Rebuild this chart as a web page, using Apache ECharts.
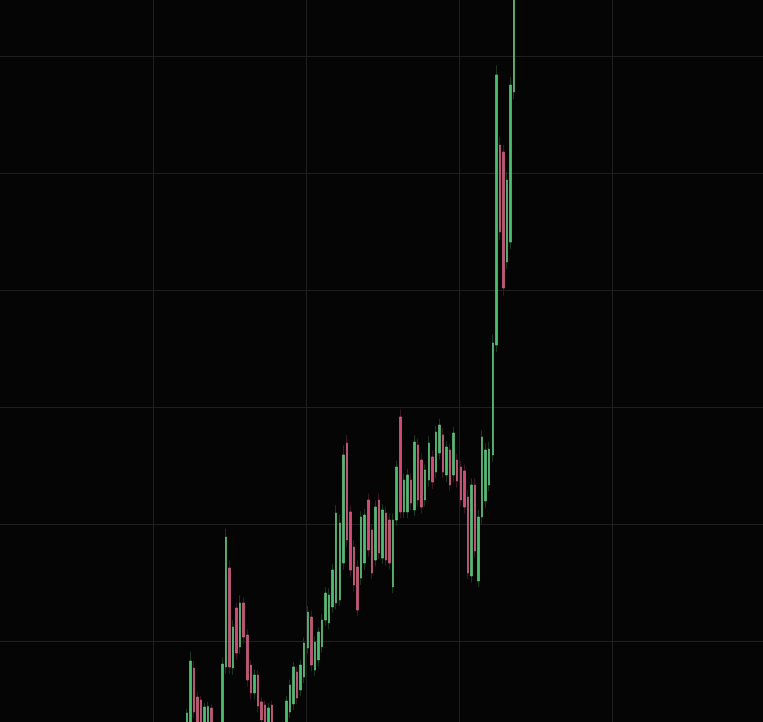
<!DOCTYPE html>
<html><head><meta charset="utf-8">
<script src="https://cdn.jsdelivr.net/npm/echarts@6/dist/echarts.min.js"></script>
<style>html,body{margin:0;padding:0;background:#050505;overflow:hidden}#c{width:763px;height:722px;}</style>
</head><body><div id="c"></div>
<script>
// category slots on the x axis (the visible window holds 215 slots; bars occupy slots 52..144)
const slotCount = 215;
const firstSlot = 52;
const opens = [2.82,2.39,7.69,5.21,4.96,2.56,2.39,4.27,2.50,1.90,
1.97,7.78,16.24,7.69,12.82,9.49,13.25,10.51,7.95,5.56,
7.09,4.79,4.53,2.56,4.53,2.00,2.40,1.90,2.56,3.93,
4.62,7.35,5.81,6.92,9.40,12.05,7.52,8.38,9.49,11.79,
11.54,12.91,13.25,13.50,16.67,26.92,21.03,18.03,16.32,15.38,
16.67,22.05,19.49,16.92,22.05,17.09,20.94,20.34,14.62,20.34,
29.15,21.03,21.03,23.76,21.20,26.75,25.47,22.05,23.76,25.73,
24.44,26.07,27.61,24.19,26.32,24.19,25.47,24.87,24.53,22.31,
15.56,23.33,15.13,20.60,21.97,23.33,25.90,35.30,52.39,51.79,
42.39,44.10,56.92];
const closes = [3.85,8.29,3.93,2.56,2.74,4.36,4.40,2.39,1.90,2.60,
8.03,18.89,7.78,11.20,8.97,13.25,10.34,6.67,5.56,7.09,
4.44,3.25,2.56,4.27,2.39,2.50,1.80,2.70,4.87,6.24,
7.78,5.13,7.95,9.83,12.48,7.95,9.91,10.77,11.79,14.10,
13.93,16.07,20.94,20.09,25.90,18.63,16.07,14.79,12.65,20.60,
20.77,17.78,15.81,21.45,17.52,21.20,16.92,16.67,20.34,24.87,
21.03,23.76,24.19,21.79,27.01,22.05,21.45,24.62,26.92,23.59,
27.86,28.46,24.44,26.58,23.33,27.78,23.68,22.05,21.45,15.81,
23.33,17.69,20.60,27.44,26.32,26.41,35.47,58.38,44.96,40.17,
49.40,57.52,68.20];
const lows = [2.3,1.9,3.4,2.0,2.2,2.0,1.9,1.9,1.4,1.4,
1.5,7.2,7.2,7.1,8.4,8.9,9.8,6.1,5.0,5.0,
3.9,2.7,2.0,2.0,1.8,1.5,1.3,1.4,2.0,3.4,
4.1,4.6,5.3,6.4,8.9,7.4,7.0,7.8,9.0,11.3,
11.0,12.4,12.7,13.0,16.1,18.0,15.5,14.2,12.1,14.8,
16.1,17.2,15.3,16.4,17.0,16.6,16.4,16.1,14.1,19.8,
20.5,20.5,20.5,21.2,20.7,21.5,20.9,21.5,23.2,23.0,
23.9,25.5,23.9,23.6,22.8,23.6,23.1,21.5,20.9,15.3,
15.0,17.1,14.6,20.0,21.4,22.8,25.3,34.7,44.3,39.5,
41.8,43.5,56.3];
const highs = [4.2,9.1,8.3,5.6,5.3,4.7,4.8,4.6,2.8,2.9,
8.6,19.6,16.9,11.8,13.3,13.9,13.7,11.0,8.4,7.6,
7.5,5.2,4.9,4.7,4.9,2.9,2.8,3.1,5.3,6.7,
8.2,7.8,8.4,10.3,13.0,12.6,10.4,11.2,12.3,14.6,
14.5,16.6,21.6,20.8,26.7,27.6,21.6,18.6,16.9,21.1,
21.3,22.6,20.0,22.0,22.6,21.7,21.5,20.9,20.9,25.4,
29.8,24.3,24.7,24.3,27.6,27.3,26.0,25.1,27.5,26.3,
28.4,29.0,28.2,27.1,26.9,28.3,26.0,25.4,25.1,22.9,
23.9,23.9,21.2,28.0,26.9,27.0,36.2,59.2,53.1,52.4,
50.1,58.2,69.0];
const yMin = 0, yMax = 70, yStep = 10;

const categories = [];
for (let i = 0; i < slotCount; i++) categories.push(String(i));
const fullData = [], bodyData = [];
for (let i = 0; i < slotCount; i++) {
  const k = i - firstSlot;
  if (k >= 0 && k < opens.length) {
    const o = opens[k], c = closes[k];
    fullData.push([o, c, lows[k], highs[k]]);
    bodyData.push([o, c, Math.min(o, c), Math.max(o, c)]);
  } else { fullData.push('-'); bodyData.push('-'); }
}

const chart = echarts.init(document.getElementById('c'), null, {renderer: 'canvas'});
chart.setOption({
  animation: false,
  backgroundColor: '#050505',
  grid: {left: 0, right: -2, top: -61, bottom: -36, containLabel: false, outerBoundsMode: 'none'},
  xAxis: {
    type: 'category', data: categories, boundaryGap: true,
    axisLine: {show: false}, axisTick: {show: false}, axisLabel: {show: false},
    splitLine: {show: true, interval: function (idx) { return idx > 0 && idx % 43 === 0; },
      lineStyle: {color: '#1f1f1f', width: 1}}
  },
  yAxis: {
    type: 'value', min: yMin, max: yMax, interval: yStep, scale: false,
    axisLine: {show: false}, axisTick: {show: false}, axisLabel: {show: false},
    splitLine: {show: true, lineStyle: {color: '#1f1f1f', width: 1}}
  },
  series: [
    {
      type: 'candlestick', data: fullData, barWidth: 1, large: false,
      itemStyle: {color: '#17361f', color0: '#3a1624', borderColor: '#17361f', borderColor0: '#3a1624', borderWidth: 1}
    },
    {
      type: 'candlestick', data: bodyData, barWidth: 2, large: false,
      itemStyle: {color: '#4cbf6e', color0: '#d24b74', borderColor: '#6fd08b', borderColor0: '#df7394', borderWidth: 0.6}
    }
  ]
});
</script></body></html>
